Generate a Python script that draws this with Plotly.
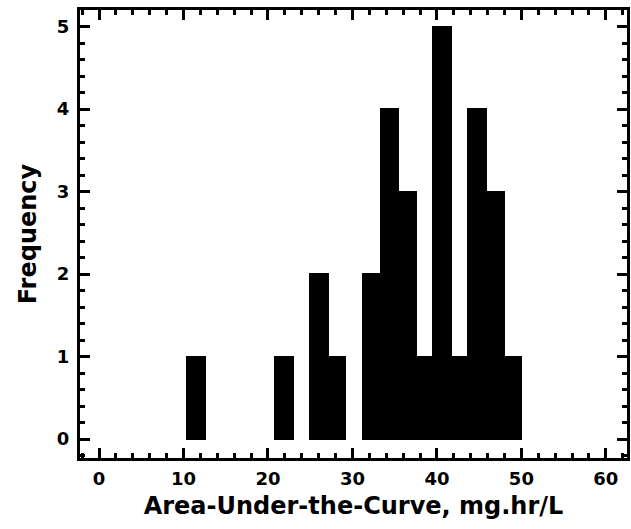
import plotly.graph_objects as go

# Histogram of AUC values (bin centers, counts), bin width
bin_centers = [11.49, 21.89, 26.05, 28.13, 32.29, 34.37, 36.45, 38.53, 40.61, 42.69, 44.77, 46.85, 48.93]
counts = [1, 1, 2, 1, 2, 4, 3, 1, 5, 1, 4, 3, 1]
bin_width = 2.08

x_ticks = [0, 10, 20, 30, 40, 50, 60]
y_ticks = [0, 1, 2, 3, 4, 5]
x_title = "Area-Under-the-Curve, mg.hr/L"
y_title = "Frequency"

FONT = "DejaVu Sans"

fig = go.Figure()
fig.add_trace(go.Bar(
    x=bin_centers,
    y=counts,
    width=[bin_width] * len(counts),
    marker=dict(color="black", line=dict(color="black", width=2)),
    showlegend=False,
    hoverinfo="x+y",
))

axis_common = dict(
    showline=True, linecolor="black", linewidth=3, mirror="allticks",
    ticks="inside", ticklen=10, tickwidth=3, tickcolor="black",
    showgrid=False, zeroline=False, automargin=False,
)

fig.update_xaxes(
    range=[-2.25, 62.5],
    tickmode="array", tickvals=x_ticks, ticktext=[str(v) for v in x_ticks],
    tickfont=dict(family=FONT, size=18, color="black", weight="bold"),
    ticklabelstandoff=2,
    minor=dict(ticks="inside", ticklen=5, tickwidth=3, tickcolor="black", dtick=2, tick0=0),
    title=dict(text=x_title, font=dict(family=FONT, size=24, color="black", weight="bold"), standoff=10),
    **axis_common,
)
fig.update_yaxes(
    range=[-0.23, 5.2],
    tickmode="array", tickvals=y_ticks, ticktext=[str(v) for v in y_ticks],
    tickfont=dict(family=FONT, size=18, color="black", weight="bold"),
    ticklabelstandoff=4,
    minor=dict(ticks="inside", ticklen=5, tickwidth=3, tickcolor="black", dtick=0.2, tick0=0),
    title=dict(text=y_title, font=dict(family=FONT, size=24, color="black", weight="bold"), standoff=14),
    **axis_common,
)

fig.update_layout(
    width=631, height=529,
    margin=dict(l=80, r=4, t=10, b=71),
    plot_bgcolor="white", paper_bgcolor="white",
    bargap=0,
)

fig.write_html(
    "out.html",
    config={"displayModeBar": False},
    post_script="document.body.style.margin='0';document.body.style.overflow='hidden';",
)
